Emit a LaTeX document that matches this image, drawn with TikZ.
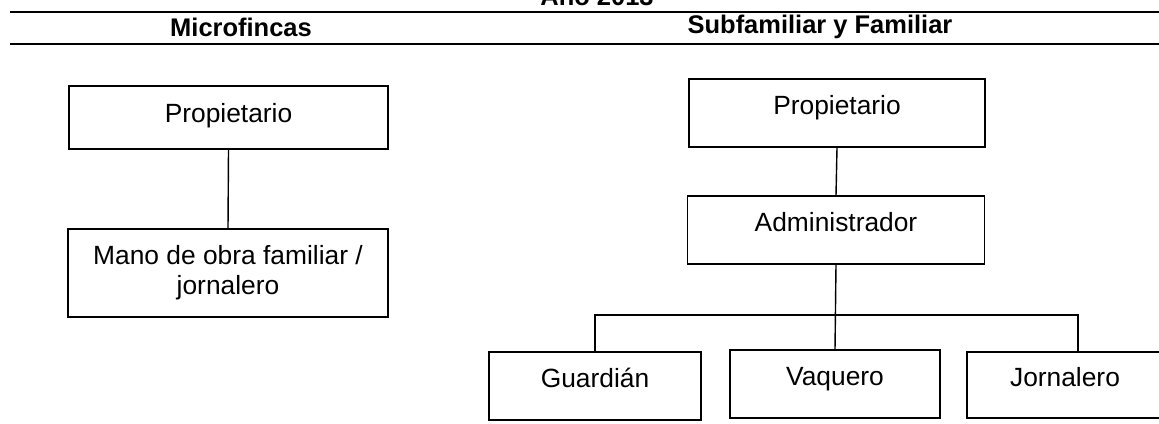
\documentclass[tikz,border=0pt]{standalone}
\usepackage{fontspec}
\setmainfont{Liberation Sans}
\usetikzlibrary{positioning, calc}

\tikzset{
  caja/.style={draw, line width=.8pt, inner sep=0pt, align=center,
    font=\fontsize{15}{17}\selectfont},
  cajabaja/.style={caja, text height=11pt, text depth=5pt},
  cajaalta/.style={caja, text height=11pt, text depth=9pt},
  encabezado/.style={font=\fontsize{14.5}{17}\selectfont\bfseries},
  linea/.style={line width=.8pt}
}

\begin{document}
\begin{tikzpicture}[x=0.02cm, y=-0.02cm]
        \clip (0,0) rectangle (1159,423);  %page
        \fill[white] (0,0) rectangle (1159,423);

        % title and rules
        \node[encabezado, anchor=base] (titulo) at (597,5) {Año 2013};
        \draw[line width=1.1pt] (10,12) -- (1159,12);
        \draw[line width=1.1pt] (10,44) -- (1159,44);
        \node[encabezado] (micro) at (241,27) {Microfincas};
        \node[encabezado] (subfam) at (820,27) {Subfamiliar y Familiar};

        % left chart
        \node[cajabaja, minimum width=6.38cm, minimum height=1.26cm] (lprop) at (228.5,117.5) {Propietario};
        \node[caja, minimum width=6.4cm, minimum height=1.76cm] (lmano) at (228,273) {Mano de obra familiar /\\jornalero};
        \draw[linea] (lprop.south) -- (lmano.north);

        % right chart
        \node[cajaalta, minimum width=5.92cm, minimum height=1.36cm] (rprop) at (837,113) {Propietario};
        \node[cajaalta, minimum width=5.94cm, minimum height=1.36cm] (radmin) at (836,230) {Administrador};
        \node[cajaalta, minimum width=4.24cm, minimum height=1.36cm] (guard) at (595,386) {Guardián};
        \node[cajaalta, minimum width=4.2cm, minimum height=1.36cm] (vaq) at (835,384) {Vaquero};
        \node[cajaalta, minimum width=3.92cm, minimum height=1.32cm] (jorn) at (1065,385) {Jornalero};
        \coordinate (busR) at (1078,315);

        \draw[linea] (rprop.south) -- (radmin.north);
        \draw[linea] (radmin.south) -- (vaq.north);
        \draw[linea] (guard.north) |- (busR) -- (busR |- jorn.north);
      \end{tikzpicture}
\end{document}
